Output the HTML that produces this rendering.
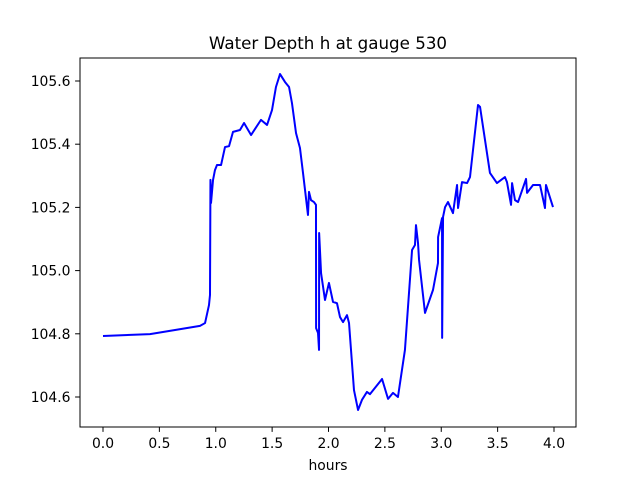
<!DOCTYPE html>
<html><head><meta charset="utf-8"><style>
body{margin:0;background:#fff;font-family:"DejaVu Sans","Liberation Sans",sans-serif}
svg text{font-family:"DejaVu Sans","Liberation Sans",sans-serif}
</style></head><body>
<svg id="c" width="640" height="480" xmlns="http://www.w3.org/2000/svg">
<rect width="640" height="480" fill="#fff"/>
<text x="328" y="49" font-size="16.7" text-anchor="middle">Water Depth h at gauge 530</text>
<text x="328" y="470" font-size="13.9" text-anchor="middle">hours</text>
<g id="plot"></g>
</svg>
<script>
const times=[0,0.417,0.639,0.860,0.905,0.940,0.949,0.953,0.958,0.976,0.993,1.011,1.047,1.082,1.118,1.153,1.215,1.251,1.313,1.401,1.455,1.499,1.534,1.570,1.614,1.650,1.676,1.712,1.747,1.774,1.818,1.827,1.845,1.871,1.889,1.890,1.907,1.916,1.917,1.934,1.969,2.004,2.040,2.075,2.102,2.129,2.164,2.182,2.226,2.262,2.297,2.341,2.368,2.475,2.528,2.572,2.616,2.678,2.741,2.767,2.776,2.794,2.803,2.856,2.927,2.971,2.972,3.007,3.008,3.016,3.034,3.060,3.104,3.140,3.149,3.184,3.229,3.255,3.326,3.344,3.432,3.494,3.565,3.583,3.619,3.628,3.654,3.681,3.752,3.761,3.814,3.876,3.920,3.929,3.991];
const depths=[104.793,104.799,104.812,104.825,104.834,104.891,104.923,105.287,105.214,105.287,105.318,105.334,105.334,105.391,105.394,105.439,105.445,105.467,105.429,105.477,105.461,105.508,105.581,105.622,105.597,105.581,105.530,105.435,105.388,105.309,105.176,105.249,105.223,105.217,105.208,104.818,104.803,104.749,105.119,104.992,104.907,104.961,104.901,104.897,104.853,104.837,104.859,104.834,104.622,104.559,104.591,104.616,104.609,104.657,104.594,104.613,104.600,104.749,105.065,105.081,105.144,105.087,105.034,104.866,104.939,105.024,105.106,105.166,104.787,105.170,105.201,105.217,105.182,105.271,105.198,105.280,105.277,105.296,105.524,105.518,105.309,105.277,105.296,105.280,105.208,105.277,105.223,105.217,105.290,105.246,105.271,105.271,105.198,105.271,105.201];
const xTicks=[0,0.5,1,1.5,2,2.5,3,3.5,4];
const xTickLabels=["0.0","0.5","1.0","1.5","2.0","2.5","3.0","3.5","4.0"];
const yTicks=[104.6,104.8,105.0,105.2,105.4,105.6];
const yTickLabels=["104.6","104.8","105.0","105.2","105.4","105.6"];

const L=80,R=576,T=58,B=427;
const x=t=>103+t*112.75;
const y=h=>397-(h-104.6)*316;
const NS="http://www.w3.org/2000/svg";
const g=document.getElementById('plot');
function mk(tag,attrs){const e=document.createElementNS(NS,tag);for(const k in attrs)e.setAttribute(k,attrs[k]);g.appendChild(e);return e;}

let d=times.map((t,i)=>(i?'L':'M')+x(t).toFixed(2)+','+y(depths[i]).toFixed(2)).join('');
const line=mk('path',{d:d,fill:'none',stroke:'#0000ff','stroke-width':2,'stroke-linejoin':'round'});



const frame=mk('rect',{x:L,y:T,width:R-L,height:B-T,fill:'none',stroke:'#000','stroke-width':1});



xTicks.forEach((v,i)=>{
  const px=x(v);
  const tk=mk('line',{x1:px,x2:px,y1:B,y2:B+4.9,stroke:'#000','stroke-width':1});
  
  
  const tx=mk('text',{x:px,y:B+21,'font-size':13.9,'text-anchor':'middle'});
  tx.textContent=xTickLabels[i];
  
  
});
yTicks.forEach((v,i)=>{
  const py=y(v);
  const tk=mk('line',{x1:L-4.9,x2:L,y1:py,y2:py,stroke:'#000','stroke-width':1});
  
  
  const tx=mk('text',{x:L-9.5,y:py+5,'font-size':13.9,'text-anchor':'end'});
  tx.textContent=yTickLabels[i];
  
  
});
</script>
</body></html>
